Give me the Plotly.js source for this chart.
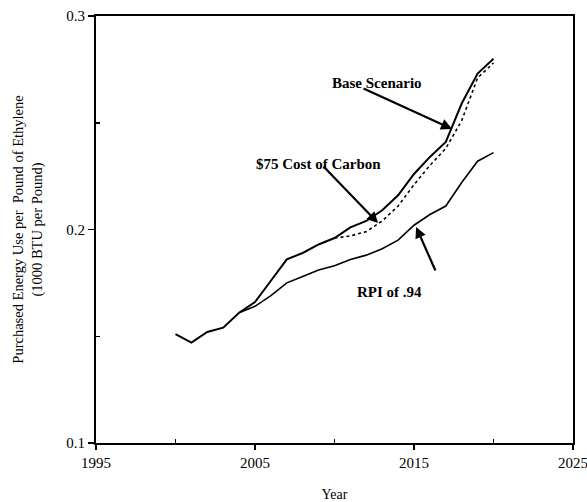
<!DOCTYPE html>
<html>
<head>
<meta charset="utf-8">
<script src="https://cdn.plot.ly/plotly-3.0.1.min.js"></script>
<style>html,body{margin:0;padding:0;background:#fff;}#chart{width:587px;height:502px;}</style>
</head>
<body>
<div id="chart"></div>
<script>
const years = [2000,2001,2002,2003,2004,2005,2006,2007,2008,2009,2010,2011,2012,2013,2014,2015,2016,2017,2018,2019,2020];
const baseScenario = [0.151,0.147,0.152,0.154,0.161,0.166,0.176,0.186,0.189,0.193,0.196,0.201,0.204,0.209,0.216,0.226,0.234,0.241,0.259,0.273,0.280];
const carbonYears = [2010,2011,2012,2013,2014,2015,2016,2017,2018,2019,2020];
const carbonCost = [0.196,0.197,0.199,0.204,0.211,0.221,0.230,0.238,0.251,0.271,0.278];
const rpiYears = [2004,2005,2006,2007,2008,2009,2010,2011,2012,2013,2014,2015,2016,2017,2018,2019,2020];
const rpi94 = [0.161,0.164,0.169,0.175,0.178,0.181,0.183,0.186,0.188,0.191,0.195,0.202,0.207,0.211,0.222,0.232,0.236];
const xTicks = [1995,2005,2015,2025];
const yTicks = [0.1,0.2,0.3];

const serif = 'Liberation Serif, Times New Roman, serif';
const traces = [
  {x: years, y: baseScenario, mode: 'lines', line: {color: '#000', width: 2}, name: 'Base Scenario'},
  {x: carbonYears, y: carbonCost, mode: 'lines', line: {color: '#000', width: 1.6, dash: 'dot'}, name: '$75 Cost of Carbon'},
  {x: rpiYears, y: rpi94, mode: 'lines', line: {color: '#000', width: 1.6}, name: 'RPI of .94'}
];
const lab = {family: serif, size: 15, color: '#000'};
const layout = {
  width: 587, height: 502,
  margin: {l: 96, r: 14, t: 16, b: 59},
  paper_bgcolor: '#fff', plot_bgcolor: '#fff',
  showlegend: false,
  font: {family: serif, size: 14, color: '#000'},
  xaxis: {
    range: [1995, 2025], tickvals: xTicks, ticktext: xTicks.map(String),
    showgrid: false, zeroline: false, showline: true, linecolor: '#000', linewidth: 2, mirror: true,
    ticks: 'outside', ticklen: 5, tickwidth: 1.5, tickcolor: '#000', ticklabeloverflow: 'allow',
    minor: {tickvals: [2000,2010,2020], ticks: 'inside', ticklen: 4, tickcolor: '#000', tickwidth: 1.5, showgrid: false},
    tickfont: {family: serif, size: 15, color: '#000'},
    title: {text: 'Year', font: {family: serif, size: 14, color: '#000'}, standoff: 20}
  },
  yaxis: {
    range: [0.1, 0.3], tickvals: yTicks, ticktext: ['0.1','0.2','0.3'],
    showgrid: false, zeroline: false, showline: true, linecolor: '#000', linewidth: 2, mirror: true,
    ticks: 'outside', ticklen: 6, tickwidth: 1.5, tickcolor: '#000',
    minor: {tickvals: [0.15,0.25], ticks: 'inside', ticklen: 4, tickcolor: '#000', tickwidth: 1.5, showgrid: false},
    tickfont: {family: serif, size: 15, color: '#000'},
    title: {text: 'Purchased Energy Use per  Pound of Ethylene<br>(1000 BTU per Pound)', font: {family: serif, size: 14.5, color: '#000'}, standoff: 20}
  },
  annotations: [
    {xref: 'paper', yref: 'paper', x: (377-96)/477, y: (443-73)/427, text: '<b>Base Scenario</b>', showarrow: false, font: lab},
    {xref: 'paper', yref: 'paper', x: (318-96)/477, y: (443-154)/427, text: '<b>$75 Cost of Carbon</b>', showarrow: false, font: lab},
    {xref: 'paper', yref: 'paper', x: (424-96)/477, y: (443-292)/427, text: '<b>RPI of .94</b>', showarrow: false, font: lab},
    {x: 2017.39, y: 0.2471, text: '', showarrow: true, arrowhead: 2, arrowsize: 1, arrowwidth: 2.2, arrowcolor: '#000', ax: -90, ay: -41},
    {x: 2012.74, y: 0.2030, text: '', showarrow: true, arrowhead: 2, arrowsize: 1, arrowwidth: 2.2, arrowcolor: '#000', ax: -56, ay: -58},
    {x: 2015.13, y: 0.2012, text: '', showarrow: true, arrowhead: 2, arrowsize: 1, arrowwidth: 2.2, arrowcolor: '#000', ax: 20, ay: 45}
  ]
};
Plotly.newPlot('chart', traces, layout, {staticPlot: true, displayModeBar: false});
</script>
</body>
</html>
